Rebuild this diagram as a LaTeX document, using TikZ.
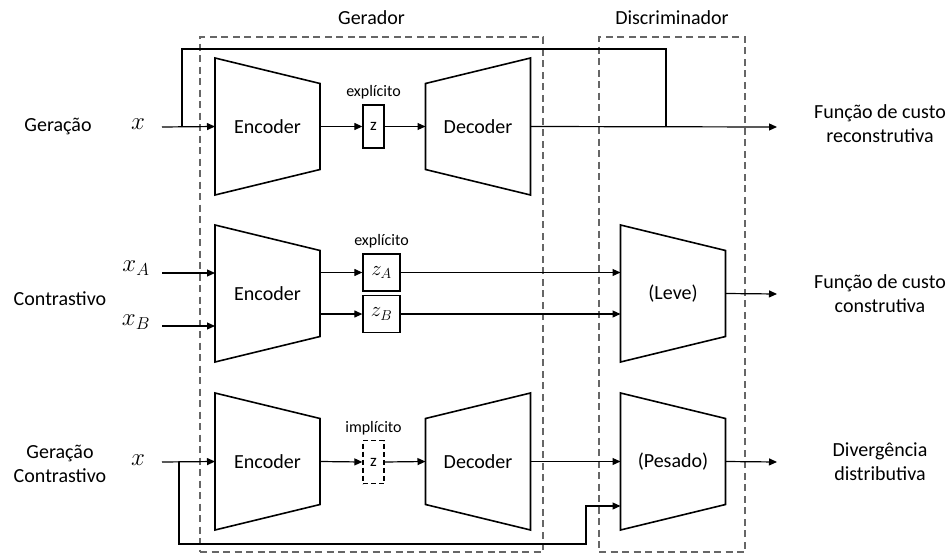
\documentclass[tikz,border=0pt]{standalone}
\usepackage{fontspec}
\setmainfont{Carlito}
\usetikzlibrary{arrows.meta,positioning}

\begin{document}
\begin{tikzpicture}[
x=1pt, y=-1pt,
font=\fontsize{20}{24}\selectfont,
every node/.style={inner sep=0pt},
enc/.style={rectangle, outer sep=0pt, minimum width=105pt, minimum height=137pt},
shp/.style={line width=1.6pt, line join=miter},
zbox/.style={rectangle, draw, line width=1.3pt, minimum width=21pt, minimum height=43pt, font=\fontsize{17}{20}\selectfont},
zmath/.style={zbox, minimum width=37pt, minimum height=37pt, font=\fontsize{20}{24}\selectfont},
group/.style={rectangle, draw=black!60, line width=1.5pt, dash pattern=on 7pt off 4.5pt, minimum width=#1, minimum height=515pt},
tag/.style={font=\fontsize{16}{19}\selectfont},
var/.style={font=\fontsize{23}{26}\selectfont},
line/.style={line width=1.2pt},
arrow/.style={line, -{Triangle[length=8pt,width=7pt]}}
]
\useasboundingbox (0,0) rectangle (951,554);

% grupos
\node[group=343pt] (gerador) at (371.5,294.5) {};
\node[group=146pt] (discr) at (672,294.5) {};
\node (lger) at (371.5,18) {Gerador};
\node (ldis) at (672,18) {Discriminador};

% linha 1: geracao
\node (geracao) at (58,126) {Geração};
\node[var] (x1) at (138,124) {$x$};
\node[enc] (enc1) at (267.5,126.5) {Encoder};
\node[zbox] (z1) at (373.5,126.5) {z};
\node[tag, above=5pt of z1] (t1) {explícito};
\node[enc] (dec1) at (478,126.5) {Decoder};
\node[align=center] (out1) at (880,124) {Função de custo\\reconstrutiva};
\coordinate (in1) at (162,127);
\coordinate (s1) at (182,127);
\coordinate (k1) at (666,127);
\coordinate (o1) at (777,127);
\draw[arrow] (in1) -- (enc1.west);
\draw[arrow] (enc1.east) -- (z1.west);
\draw[arrow] (z1.east) -- (dec1.west);
\draw[arrow] (dec1.east) -- (o1);
\draw[line] (s1) |- (666,49) -- (k1);

% linha 2: contrastivo
\node (contr) at (60,299) {Contrastivo};
\node[var] (xa) at (136,268) {$x_A$};
\node[var] (xb) at (136,322) {$x_B$};
\node[enc] (enc2) at (267.5,293.5) {Encoder};
\node[zmath] (za) at (381.5,272.5) {$z_A$};
\node[zmath] (zb) at (381.5,314) {$z_B$};
\node[tag, above=5pt of za] (t2) {explícito};
\node[enc] (leve) at (673,293.5) {(Leve)};
\node[align=center] (out2) at (880,294) {Função de custo\\construtiva};
\coordinate (ina) at (162,273);
\coordinate (inb) at (162,326);
\coordinate (o2) at (777,294);
\draw[arrow] (ina) -- (ina -| enc2.west);
\draw[arrow] (inb) -- (inb -| enc2.west);
\draw[arrow] (enc2.east |- za) -- (za.west);
\draw[arrow] (enc2.east |- zb) -- (zb.west);
\draw[arrow] (za.east) -- (za.east -| leve.west);
\draw[arrow] (zb.east) -- (zb.east -| leve.west);
\draw[arrow] (leve.east) -- (o2);

% linha 3: geracao contrastivo
\node[align=center] (gercon) at (60,464) {Geração\\Contrastivo};
\node[var] (x3) at (138,460) {$x$};
\node[enc] (enc3) at (267.5,461.5) {Encoder};
\node[zbox, dash pattern=on 5pt off 3pt] (z3) at (373.5,462) {z};
\node[tag, above=5pt of z3] (t3) {implícito};
\node[enc] (dec3) at (478,461.5) {Decoder};
\node[enc] (pesado) at (673,461.5) {(Pesado)};
\node[align=center] (out3) at (880,462) {Divergência\\distributiva};
\coordinate (in3) at (162,462);
\coordinate (s3) at (179,462);
\coordinate (o3) at (777,462);
\draw[arrow] (in3) -- (enc3.west);
\draw[arrow] (enc3.east) -- (z3.west);
\draw[arrow] (z3.east) -- (dec3.west);
\draw[arrow] (dec3.east) -- (pesado.west);
\draw[arrow] (pesado.east) -- (o3);
\draw[arrow] (s3) |- (586,544) |- (pesado.west |- 0,506);

% trapezios
\foreach \n in {enc1,enc2,enc3,leve,pesado}
  \draw[shp] (\n.north west) -- ([yshift=-25.5pt]\n.north east) -- ([yshift=25.5pt]\n.south east) -- (\n.south west) -- cycle;
\foreach \n in {dec1,dec3}
  \draw[shp] ([yshift=-25.5pt]\n.north west) -- (\n.north east) -- (\n.south east) -- ([yshift=25.5pt]\n.south west) -- cycle;
\end{tikzpicture}
\end{document}
